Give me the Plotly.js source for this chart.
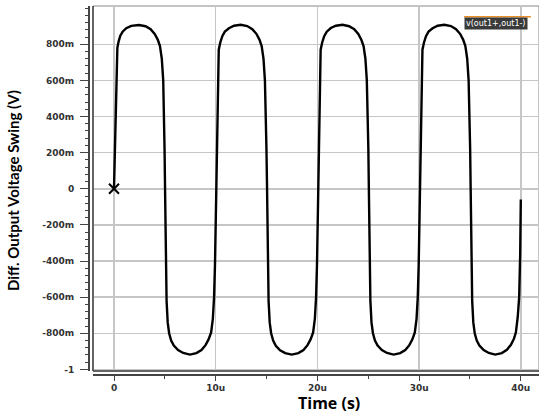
<!DOCTYPE html>
<html><head><meta charset="utf-8">
<script src="https://cdn.plot.ly/plotly-3.0.1.min.js"></script>
<style>html,body{margin:0;padding:0;background:#fff;overflow:hidden}#chart{width:539px;height:413px}</style>
</head><body><div id="chart"></div>
<script>
// time in microseconds, differential output voltage in volts
const timeUs = [
  0, 0.1, 0.2, 0.27, 0.33, 0.45, 0.62, 0.85, 1.2, 1.7, 2.45, 3.1, 3.6, 4.0, 4.3, 4.52, 4.7, 4.84, 4.92, 4.97,
  5.02, 5.07, 5.12, 5.17, 5.28, 5.42, 5.62, 5.88, 6.3, 6.8, 7.47, 8.1, 8.6, 9.0, 9.3, 9.55, 9.72, 9.84, 9.93, 9.99,
  10.05, 10.1, 10.15, 10.21, 10.3, 10.45, 10.65, 10.9, 11.3, 11.8, 12.46, 13.1, 13.6, 14.0, 14.3, 14.52, 14.7, 14.84, 14.93, 14.99,
  15.05, 15.1, 15.15, 15.2, 15.31, 15.45, 15.65, 15.91, 16.33, 16.83, 17.48, 18.13, 18.63, 19.03, 19.33, 19.58, 19.75, 19.87, 19.96, 20.02,
  20.07, 20.12, 20.17, 20.23, 20.32, 20.47, 20.67, 20.92, 21.32, 21.82, 22.47, 23.12, 23.62, 24.02, 24.32, 24.54, 24.72, 24.86, 24.95, 25.01,
  25.06, 25.11, 25.16, 25.21, 25.32, 25.46, 25.66, 25.92, 26.34, 26.84, 27.49, 28.14, 28.64, 29.04, 29.34, 29.58, 29.75, 29.87, 29.96, 30.02,
  30.08, 30.13, 30.18, 30.24, 30.33, 30.48, 30.68, 30.93, 31.33, 31.83, 32.48, 33.13, 33.63, 34.03, 34.33, 34.55, 34.73, 34.87, 34.96, 35.02,
  35.07, 35.12, 35.17, 35.22, 35.33, 35.47, 35.67, 35.93, 36.35, 36.85, 37.48, 38.13, 38.63, 39.03, 39.33, 39.52, 39.7, 39.84, 39.94, 40.0
];
const diffV = [
  0, 0.22, 0.5, 0.72, 0.78, 0.815, 0.848, 0.87, 0.889, 0.902, 0.907, 0.9, 0.883, 0.857, 0.826, 0.79, 0.72, 0.6, 0.42, 0.22,
  0, -0.24, -0.46, -0.62, -0.74, -0.8, -0.84, -0.868, -0.893, -0.909, -0.918, -0.91, -0.893, -0.866, -0.834, -0.795, -0.72, -0.6, -0.42, -0.22,
  0, 0.26, 0.5, 0.68, 0.77, 0.81, 0.845, 0.87, 0.889, 0.903, 0.908, 0.901, 0.884, 0.858, 0.826, 0.79, 0.72, 0.6, 0.42, 0.22,
  0, -0.24, -0.46, -0.62, -0.74, -0.8, -0.84, -0.869, -0.894, -0.91, -0.918, -0.91, -0.893, -0.866, -0.834, -0.795, -0.72, -0.6, -0.42, -0.22,
  0, 0.26, 0.5, 0.68, 0.77, 0.81, 0.845, 0.87, 0.89, 0.903, 0.908, 0.9, 0.883, 0.857, 0.825, 0.79, 0.72, 0.6, 0.42, 0.22,
  0, -0.24, -0.46, -0.62, -0.74, -0.8, -0.84, -0.868, -0.893, -0.909, -0.918, -0.91, -0.893, -0.866, -0.834, -0.795, -0.72, -0.6, -0.42, -0.22,
  0, 0.26, 0.5, 0.68, 0.77, 0.81, 0.845, 0.87, 0.889, 0.903, 0.908, 0.901, 0.884, 0.858, 0.826, 0.79, 0.72, 0.6, 0.42, 0.22,
  0, -0.24, -0.46, -0.62, -0.74, -0.8, -0.84, -0.868, -0.893, -0.909, -0.918, -0.91, -0.892, -0.864, -0.83, -0.795, -0.71, -0.6, -0.36, -0.06
];
const startMarkerT = [0];
const startMarkerV = [0];
const xTickVals = [0, 10, 20, 30, 40];
const xTickText = ['0', '10u', '20u', '30u', '40u'];
const yTickVals = [-1, -0.8, -0.6, -0.4, -0.2, 0, 0.2, 0.4, 0.6, 0.8];
const yTickText = ['-1', '-800m', '-600m', '-400m', '-200m', '0', '200m', '400m', '600m', '800m'];
const seriesName = 'v(out1+,out1-)';
const xTitle = 'Time (s)';
const yTitle = 'Diff. Output Voltage Swing (V)';

const tickFont = {family: 'DejaVu Sans, Verdana, sans-serif', size: 9, color: '#333', weight: 'bold'};

const traces = [
  {x: timeUs, y: diffV, type: 'scatter', mode: 'lines', name: seriesName,
   line: {color: '#000', width: 2.4}, hoverinfo: 'none'},
  {x: startMarkerT, y: startMarkerV, type: 'scatter', mode: 'markers',
   marker: {symbol: 'x-thin', size: 10, color: '#000', line: {color: '#000', width: 2}}, hoverinfo: 'none'}
];

const layout = {
  width: 539, height: 413,
  margin: {l: 88, r: 0, t: 6, b: 39},
  paper_bgcolor: '#fff', plot_bgcolor: '#fff',
  showlegend: false,
  xaxis: {
    domain: [5/451, 1], range: [-2.065, 41.79], anchor: 'free', position: 0,
    showline: true, linecolor: '#444', linewidth: 1.5,
    ticks: 'outside', ticklen: 5, tickcolor: '#444', tickwidth: 1,
    tickmode: 'array', tickvals: xTickVals, ticktext: xTickText,
    showgrid: true, gridcolor: '#c6c6c6', gridwidth: 1.5, zeroline: false,
    tickfont: tickFont,
    minor: {dtick: 5, tick0: 0, ticks: 'outside', ticklen: 3, tickcolor: '#444', showgrid: false}
  },
  yaxis: {
    domain: [3/368, 1], range: [-1.009, 1.012], anchor: 'free', position: 0,
    showline: true, linecolor: '#444', linewidth: 1.5,
    ticks: 'outside', ticklen: 8, tickcolor: '#444', tickwidth: 1,
    tickmode: 'array', tickvals: yTickVals, ticktext: yTickText,
    showgrid: true, gridcolor: '#c6c6c6', gridwidth: 1.5, zeroline: false,
    tickfont: tickFont, ticklabelstandoff: 4,
    minor: {dtick: 0.04, tick0: 0, ticks: 'outside', ticklen: 3, tickcolor: '#444', showgrid: false}
  },
  shapes: [
    {type: 'rect', xref: 'x domain', yref: 'y domain', x0: 0, x1: 1, y0: 0, y1: 1,
     line: {color: '#888', width: 1}, layer: 'below'},
    {type: 'line', xref: 'x domain', yref: 'y domain', x0: 0, x1: 0, y0: 0, y1: 1,
     line: {color: '#444', width: 1.5}},
    {type: 'line', xref: 'x domain', yref: 'y domain', x0: 0, x1: 1, y0: 0, y1: 0,
     line: {color: '#444', width: 1.5}},
    {type: 'line', xref: 'paper', yref: 'paper', x0: 0.8337, x1: 0.9822, y0: 0.971, y1: 0.971,
     line: {color: '#e8912a', width: 1.5}}
  ],
  annotations: [
    {text: seriesName, xref: 'paper', yref: 'paper', x: 0.8337, y: 0.969, xanchor: 'left', yanchor: 'top',
     showarrow: false, bgcolor: '#3a3a3a', borderpad: 1,
     font: {family: 'DejaVu Sans, Verdana, sans-serif', size: 8, color: '#fff'}},
    {text: yTitle, xref: 'paper', yref: 'paper', x: -0.1663, y: 0.5, xanchor: 'center', yanchor: 'middle',
     textangle: -90, showarrow: false,
     font: {family: 'Lato, DejaVu Sans, sans-serif', size: 15, color: '#000', weight: 'bold'}},
    {text: xTitle, xref: 'paper', yref: 'paper', x: 0.534, y: -0.079, xanchor: 'center', yanchor: 'middle',
     showarrow: false,
     font: {family: 'Open Sans, DejaVu Sans, sans-serif', size: 16, color: '#000', weight: 'bold'}}
  ]
};

Plotly.newPlot('chart', traces, layout, {staticPlot: true, displayModeBar: false});
</script>
</body></html>
